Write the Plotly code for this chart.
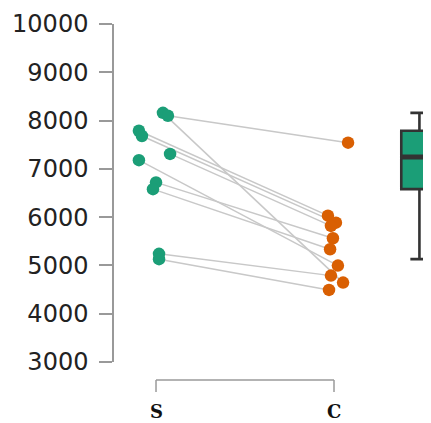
import plotly.graph_objects as go
import numpy as np

categories = ["S", "C"]
s_values = [8160, 8100, 7790, 7680, 7310, 7180, 6720, 6580, 5240, 5130]
c_values = [4644, 7543, 6031, 5886, 5818, 4996, 5563, 5335, 4789, 4493]
s_jitter = [0.039, 0.067, -0.096, -0.079, 0.079, -0.096, 0.0, -0.017, 0.017, 0.017]
c_jitter = [0.051, 0.079, -0.034, 0.011, -0.017, 0.022, -0.006, -0.022, -0.017, -0.028]
y_ticks = [3000, 4000, 5000, 6000, 7000, 8000, 9000, 10000]
y_tick_labels = [str(v) for v in y_ticks]

GREEN = "#1b9e77"
ORANGE = "#d95f02"
BOX_POS = 1.48
BOX_W = 0.204

sx = [0 + j for j in s_jitter]
cx = [1 + j for j in c_jitter]

fig = go.Figure()

# paired lines
lx, ly = [], []
for x0, y0, x1, y1 in zip(sx, s_values, cx, c_values):
    lx += [x0, x1, None]
    ly += [y0, y1, None]
fig.add_trace(go.Scatter(x=lx, y=ly, mode="lines",
                         line=dict(color="#c8c8c8", width=1.5),
                         hoverinfo="skip", showlegend=False))

fig.add_trace(go.Scatter(x=sx, y=s_values, mode="markers",
                         marker=dict(color=GREEN, size=12.5, line=dict(width=0)),
                         showlegend=False))
fig.add_trace(go.Scatter(x=cx, y=c_values, mode="markers",
                         marker=dict(color=ORANGE, size=12.5, line=dict(width=0)),
                         showlegend=False))

fig.add_trace(go.Box(y=s_values, x0=BOX_POS, width=BOX_W, boxpoints=False,
                     fillcolor=GREEN, line=dict(color="#333333", width=2.6),
                     whiskerwidth=0.5, showlegend=False))
med = float(np.median(s_values))
fig.add_trace(go.Scatter(x=[BOX_POS - BOX_W / 2, BOX_POS + BOX_W / 2], y=[med, med],
                         mode="lines", line=dict(color="#333333", width=5),
                         hoverinfo="skip", showlegend=False))

# bracket-style x axis
br_y, br_t = -0.0533, -0.0888
shape_line = dict(color="#9a9a9a", width=1.5)
fig.add_shape(type="line", xref="x", yref="paper", x0=0, x1=1, y0=br_y, y1=br_y, line=shape_line)
for i in range(len(categories)):
    fig.add_shape(type="line", xref="x", yref="paper", x0=i, x1=i, y0=br_y, y1=br_t, line=shape_line)
    fig.add_annotation(x=i, y=-0.182, xref="x", yref="paper", text="<b>%s</b>" % categories[i],
                       showarrow=False, yanchor="bottom", xanchor="center",
                       font=dict(family="DejaVu Serif", size=18, color="#111111"))

fig.update_layout(
    width=423, height=415,
    margin=dict(l=106, r=0, t=16, b=61, autoexpand=False),
    plot_bgcolor="white", paper_bgcolor="white",
    xaxis=dict(range=[-0.236, 1.545], visible=False, automargin=False),
    yaxis=dict(range=[3000, 10000], tickvals=y_ticks, ticktext=y_tick_labels,
               showline=True, automargin=False,
               linecolor="#999999", linewidth=1.5, ticks="outside", ticklen=13,
               tickcolor="#999999", tickwidth=1.5, showgrid=False, zeroline=False,
               ticklabelstandoff=6,
               tickfont=dict(family="DejaVu Sans", size=24, color="#222222")),
)

fig.write_html("out.html")
